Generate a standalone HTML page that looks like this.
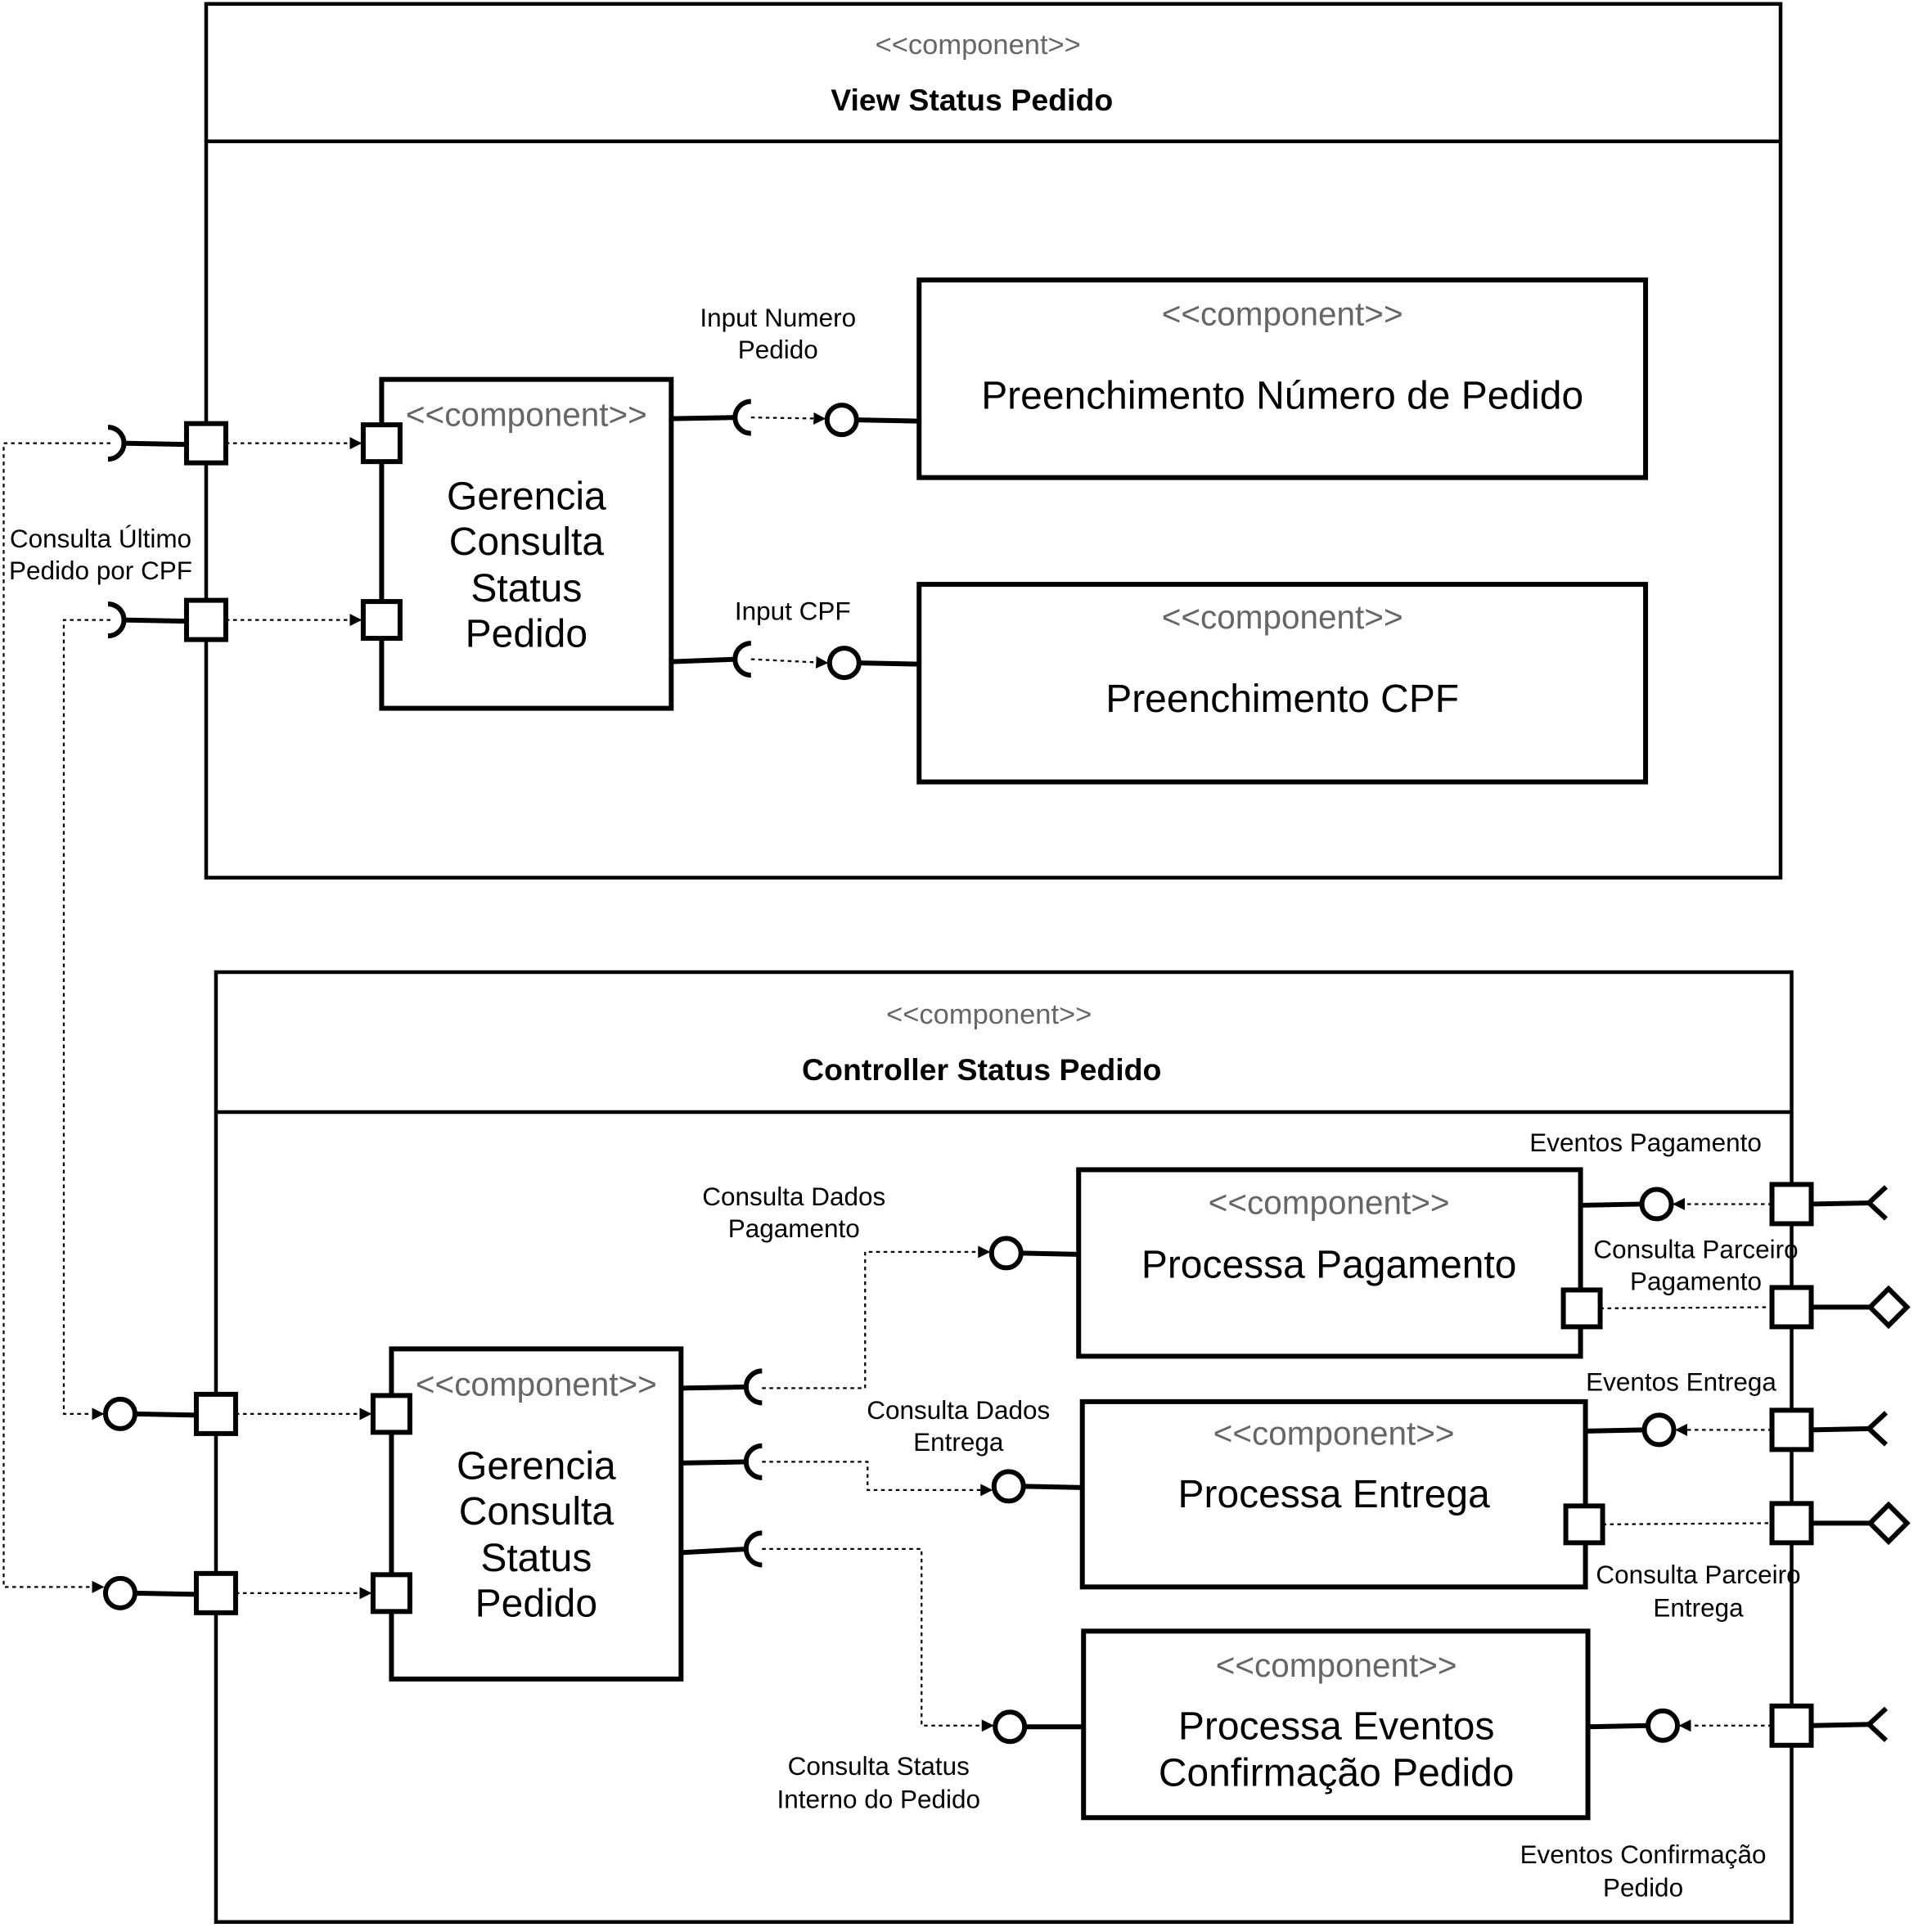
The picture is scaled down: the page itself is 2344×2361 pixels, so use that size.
<!DOCTYPE html>
<html><head><meta charset="utf-8"><style>
html,body{margin:0;padding:0;background:#fff;}
svg{display:block;}
text{font-family:"Liberation Sans",sans-serif;}
</style></head><body>
<svg width="2344" height="2361" viewBox="0 0 1563 1574" xmlns="http://www.w3.org/2000/svg">
<defs>
<marker id="a" markerWidth="10" markerHeight="10" refX="9" refY="5" orient="auto" markerUnits="userSpaceOnUse"><path d="M0,0 L10,5 L0,10 z" fill="#000"/></marker>
</defs>
<g fill="none" stroke="#000">
<!-- top container -->
<rect x="168" y="3" width="1283" height="712" stroke-width="3"/>
<line x1="168" y1="115" x2="1451" y2="115" stroke-width="3"/>
<!-- bottom container -->
<rect x="176" y="792" width="1284" height="774" stroke-width="3"/>
<line x1="176" y1="906" x2="1460" y2="906" stroke-width="3"/>
<!-- inner boxes -->
<rect x="311" y="309" width="236" height="268" stroke-width="4"/>
<rect x="749" y="228" width="592" height="161" stroke-width="4"/>
<rect x="749" y="476" width="592" height="161" stroke-width="4"/>
<rect x="319" y="1099" width="236" height="269" stroke-width="4"/>
<rect x="879" y="953" width="409" height="152" stroke-width="4"/>
<rect x="882" y="1142" width="410" height="151" stroke-width="4"/>
<rect x="883" y="1329" width="411" height="152" stroke-width="4"/>

<!-- solid connectors -->
<g stroke-width="4">
<line x1="100" y1="361" x2="152" y2="362"/>
<line x1="100" y1="505" x2="152" y2="506"/>
<line x1="547" y1="341" x2="600" y2="340"/>
<line x1="698" y1="342" x2="749" y2="343"/>
<line x1="547" y1="539" x2="600" y2="537"/>
<line x1="700" y1="540" x2="749" y2="541"/>
<line x1="110" y1="1152" x2="160" y2="1153"/>
<line x1="110" y1="1298" x2="160" y2="1299"/>
<line x1="555" y1="1131" x2="610" y2="1130"/>
<line x1="555" y1="1192" x2="610" y2="1191"/>
<line x1="555" y1="1265" x2="610" y2="1262"/>
<line x1="832" y1="1021" x2="879" y2="1022"/>
<line x1="834" y1="1211" x2="882" y2="1212"/>
<line x1="835" y1="1407" x2="883" y2="1407"/>
<line x1="1288" y1="982" x2="1338" y2="981"/>
<line x1="1292" y1="1166" x2="1340" y2="1165"/>
<line x1="1294" y1="1407" x2="1343" y2="1406"/>
<line x1="1476" y1="981" x2="1525" y2="980"/>
<line x1="1476" y1="1065" x2="1524" y2="1065"/>
<line x1="1476" y1="1165" x2="1525" y2="1164"/>
<line x1="1476" y1="1241" x2="1524" y2="1241"/>
<line x1="1476" y1="1406" x2="1525" y2="1405"/>
<!-- sockets (arcs) -->
<path d="M88,348 A13,13 0 0 1 88,374"/>
<path d="M88,492 A13,13 0 0 1 88,518"/>
<path d="M612,327 A13,13 0 0 0 612,353"/>
<path d="M612,524 A13,13 0 0 0 612,550"/>
<path d="M621,1117 A13,13 0 0 0 621,1143"/>
<path d="M621,1178 A13,13 0 0 0 621,1204"/>
<path d="M621,1249 A13,13 0 0 0 621,1275"/>
<!-- right angle sockets -->
<path d="M1537,967 L1523,980 L1537,993"/>
<path d="M1537,1151 L1523,1164 L1537,1177"/>
<path d="M1537,1392 L1523,1405 L1537,1418"/>
<path d="M1524,1065 L1539,1050 L1554,1065 L1539,1080 Z"/>
<path d="M1524,1241 L1539,1226 L1554,1241 L1539,1256 Z"/>
<!-- lollipops -->
<circle cx="686" cy="342" r="12"/>
<circle cx="688" cy="540" r="12"/>
<circle cx="98" cy="1152" r="12"/>
<circle cx="98" cy="1298" r="12"/>
<circle cx="820" cy="1021" r="12"/>
<circle cx="822" cy="1211" r="12"/>
<circle cx="823" cy="1407" r="12"/>
<circle cx="1350" cy="981" r="12"/>
<circle cx="1352" cy="1165" r="12"/>
<circle cx="1355" cy="1406" r="12"/>
</g>
<!-- ports -->
<g fill="#fff" stroke-width="4">
<rect x="152" y="345" width="32" height="32"/>
<rect x="152" y="489" width="32" height="32"/>
<rect x="296" y="346" width="30" height="30"/>
<rect x="296" y="490" width="30" height="30"/>
<rect x="160" y="1136" width="32" height="32"/>
<rect x="160" y="1282" width="32" height="32"/>
<rect x="304" y="1137" width="30" height="30"/>
<rect x="304" y="1283" width="30" height="30"/>
<rect x="1274" y="1051" width="30" height="30"/>
<rect x="1276" y="1227" width="30" height="30"/>
<rect x="1444" y="965" width="32" height="32"/>
<rect x="1444" y="1049" width="32" height="32"/>
<rect x="1444" y="1149" width="32" height="32"/>
<rect x="1444" y="1225" width="32" height="32"/>
<rect x="1444" y="1390" width="32" height="32"/>
</g>
<!-- dotted -->
<g stroke-width="1.5" stroke-dasharray="3,3">
<path d="M184,361 L294,361" marker-end="url(#a)"/>
<path d="M184,505 L294,505" marker-end="url(#a)"/>
<path d="M612,340 L672,341" marker-end="url(#a)"/>
<path d="M612,537 L674,540" marker-end="url(#a)"/>
<path d="M90,361 L3,361 L3,1293 L84,1293" marker-end="url(#a)"/>
<path d="M90,505 L52,505 L52,1152 L84,1152" marker-end="url(#a)"/>
<path d="M192,1152 L302,1152" marker-end="url(#a)"/>
<path d="M192,1298 L302,1298" marker-end="url(#a)"/>
<path d="M621,1131 L705,1131 L705,1020 L806,1020" marker-end="url(#a)"/>
<path d="M621,1191 L707,1191 L707,1214 L808,1214" marker-end="url(#a)"/>
<path d="M621,1262 L751,1262 L751,1406 L809,1406" marker-end="url(#a)"/>
<path d="M1444,981 L1364,981" marker-end="url(#a)"/>
<path d="M1444,1165 L1366,1165" marker-end="url(#a)"/>
<path d="M1444,1406 L1369,1406" marker-end="url(#a)"/>
<path d="M1304,1066 L1444,1065"/>
<path d="M1306,1242 L1444,1241"/>
</g>
</g>
<!-- text -->
<g text-anchor="middle">
<text x="797" y="44" font-size="23" fill="#666">&lt;&lt;component&gt;&gt;</text>
<text x="792" y="90" font-size="25" font-weight="bold">View Status Pedido</text>
<text x="806" y="834" font-size="23" fill="#666">&lt;&lt;component&gt;&gt;</text>
<text x="800" y="880" font-size="25" font-weight="bold">Controller Status Pedido</text>

<text x="429" y="347" font-size="27" fill="#666">&lt;&lt;component&gt;&gt;</text>
<text x="429" y="415" font-size="32">Gerencia</text>
<text x="429" y="452" font-size="32">Consulta</text>
<text x="429" y="490" font-size="32">Status</text>
<text x="429" y="527" font-size="32">Pedido</text>

<text x="437" y="1137" font-size="27" fill="#666">&lt;&lt;component&gt;&gt;</text>
<text x="437" y="1205" font-size="32">Gerencia</text>
<text x="437" y="1242" font-size="32">Consulta</text>
<text x="437" y="1280" font-size="32">Status</text>
<text x="437" y="1317" font-size="32">Pedido</text>

<text x="1045" y="265" font-size="27" fill="#666">&lt;&lt;component&gt;&gt;</text>
<text x="1045" y="333" font-size="32">Preenchimento Número de Pedido</text>
<text x="1045" y="512" font-size="27" fill="#666">&lt;&lt;component&gt;&gt;</text>
<text x="1045" y="580" font-size="32">Preenchimento CPF</text>

<text x="1083" y="989" font-size="27" fill="#666">&lt;&lt;component&gt;&gt;</text>
<text x="1083" y="1041" font-size="32">Processa Pagamento</text>
<text x="1087" y="1177" font-size="27" fill="#666">&lt;&lt;component&gt;&gt;</text>
<text x="1087" y="1228" font-size="32">Processa Entrega</text>
<text x="1089" y="1366" font-size="27" fill="#666">&lt;&lt;component&gt;&gt;</text>
<text x="1089" y="1417" font-size="32">Processa Eventos</text>
<text x="1089" y="1455" font-size="32">Confirmação Pedido</text>

<g font-size="21">
<text x="634" y="266">Input Numero</text>
<text x="634" y="292">Pedido</text>
<text x="646" y="505">Input CPF</text>
<text x="82" y="446">Consulta Último</text>
<text x="82" y="472">Pedido por CPF</text>
<text x="647" y="982">Consulta Dados</text>
<text x="647" y="1008">Pagamento</text>
<text x="781" y="1156">Consulta Dados</text>
<text x="781" y="1182">Entrega</text>
<text x="716" y="1446">Consulta Status</text>
<text x="716" y="1473">Interno do Pedido</text>
<text x="1341" y="938">Eventos Pagamento</text>
<text x="1382" y="1025">Consulta Parceiro</text>
<text x="1382" y="1051">Pagamento</text>
<text x="1370" y="1133">Eventos Entrega</text>
<text x="1384" y="1290">Consulta Parceiro</text>
<text x="1384" y="1317">Entrega</text>
<text x="1339" y="1518">Eventos Confirmação</text>
<text x="1339" y="1545">Pedido</text>
</g>
</g>
</svg>
</body></html>
